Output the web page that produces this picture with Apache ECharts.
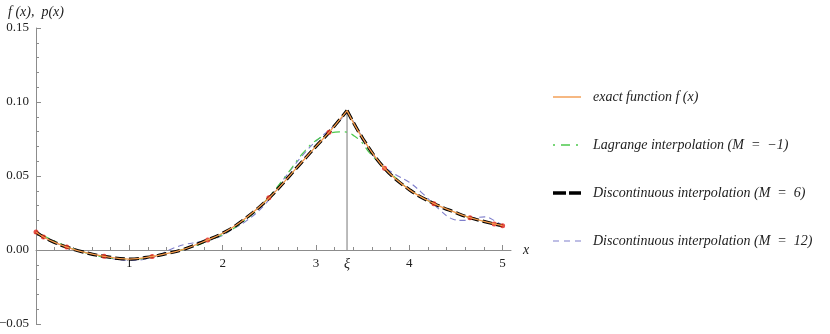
<!DOCTYPE html>
<html><head><meta charset="utf-8">
<script src="https://cdn.jsdelivr.net/npm/echarts@6/dist/echarts.min.js"></script>
<style>html,body{margin:0;padding:0;background:#fff}#c{width:830px;height:334px}</style>
</head><body><div id="c"></div>
<script>
// ---- axis ticks ----
const xMajorTicks = [1, 2, 3, 4, 5];
const xMinorTicks = [0.2, 0.4, 0.6, 0.8, 1.2, 1.4, 1.6, 1.8, 2.2, 2.4, 2.6, 2.8, 3.2, 3.4, 3.6, 3.8, 4.2, 4.4, 4.6, 4.8];
const xiValue = 3.333;
const xiLabel = 'ξ';
const yTickLabels = [-0.05, 0, 0.05, 0.1, 0.15];

// ---- exact function f(x) (left of ξ, right of ξ) ----
const xLeft  = [0, 0.08, 0.2, 0.33, 0.5, 0.73, 1.0, 1.245, 1.4, 1.57, 1.84, 2.0, 2.2, 2.5, 2.8, 3.0, 3.14, 3.333];
const fLeft  = [0.0122, 0.0088, 0.0051, 0.0020, -0.0013, -0.0043, -0.0061, -0.0044, -0.0024, 0.0002, 0.0068, 0.0113, 0.0192, 0.0353, 0.0560, 0.0700, 0.0795, 0.0942];
const xRight = [3.333, 3.5, 3.735, 4.0, 4.26, 4.5, 4.65, 4.91, 5.0];
const fRight = [0.0942, 0.0755, 0.0552, 0.0408, 0.0315, 0.0252, 0.0218, 0.0176, 0.0164];

// ---- discontinuous interpolation M = 6 ----
const p6Left  = [0.0122, 0.0088, 0.0051, 0.0020, -0.0013, -0.0043, -0.0061, -0.0044, -0.0024, 0.0002, 0.0068, 0.0113, 0.0192, 0.0353, 0.0560, 0.0700, 0.0795, 0.0942];
const p6Right = [0.0942, 0.0755, 0.0552, 0.0408, 0.0315, 0.0252, 0.0218, 0.0176, 0.0164];

// ---- discontinuous interpolation M = 12 ----
const x12Left  = [0, 0.2, 0.4, 0.7, 1.0, 1.25, 1.47, 1.6, 1.75, 1.95, 2.1, 2.25, 2.45, 2.65, 2.85, 3.0, 3.15, 3.27, 3.333];
const p12Left  = [0.0125, 0.0050, 0.0006, -0.0042, -0.0070, -0.0050, 0.0012, 0.0038, 0.0055, 0.0085, 0.0138, 0.0195, 0.0305, 0.0475, 0.0635, 0.0735, 0.0815, 0.0885, 0.0930];
const x12Right = [3.333, 3.4, 3.57, 3.7, 3.86, 4.0, 4.16, 4.32, 4.47, 4.58, 4.7, 4.81, 4.93, 5.0];
const p12Right = [0.0930, 0.0870, 0.0680, 0.0578, 0.0507, 0.0458, 0.0372, 0.0275, 0.0208, 0.0200, 0.0217, 0.0224, 0.0192, 0.0165];

// ---- Lagrange interpolation M = -1 ----
const xLag = [0, 0.5, 1.0, 1.5, 2.0, 2.3, 2.5, 2.7, 2.86, 3.0, 3.15, 3.25, 3.333, 3.41, 3.485, 3.57, 3.7, 3.85, 4.0, 4.3, 4.65, 5.0];
const pLag = [0.0122, -0.0013, -0.0062, -0.0010, 0.0105, 0.0232, 0.0362, 0.0520, 0.0655, 0.0740, 0.0788, 0.0798, 0.0797, 0.0770, 0.0732, 0.0660, 0.0575, 0.0490, 0.0410, 0.0302, 0.0218, 0.0164];

// ---- interpolation nodes ----
const xNodes = [0, 0.08, 0.33, 0.73, 1.245, 1.84, 2.495, 3.14, 3.735, 4.264, 4.65, 4.91, 5.0];
const yNodes = [0.0122, 0.0088, 0.0020, -0.0043, -0.0044, 0.0068, 0.0353, 0.0795, 0.0552, 0.0313, 0.0218, 0.0176, 0.0164];

const names = ['exact function f (x)', 'Lagrange interpolation (M  =  −1)', 'Discontinuous interpolation (M  =  6)', 'Discontinuous interpolation (M  =  12)'];

const pairs = (xs, ys) => xs.map((x, i) => [x, ys[i]]);
const serif = 'Liberation Serif';

const cOrange = '#f39a4c', cGreen = '#4cc94c', cBlack = '#000000', cBlue = '#7f7fcc', cRed = '#e0231a';
const lsExact = { color: cOrange, width: 1.3, type: 'solid' };
const lsLag = { color: cGreen, width: 1.2, type: [2, 5, 8, 5] };
const ls6 = { color: cBlack, width: 3.2, type: [10, 4] };
const ls12 = { color: cBlue, width: 1.1, type: [6, 4] };

// legend sample shapes (dash patterns as filled paths, 28 px wide)
const iconExact = 'path://M0,0H28V1.4H0Z';
const iconLag = 'path://M0,0H2V1.4H0Z M8,0H17V1.4H8Z M23,0H25V1.4H23Z M28,0L28,1.4Z';
const icon6 = 'path://M0,0H13V3.4H0Z M16,0H28V3.4H16Z';
const icon12 = 'path://M0,0H6V1.2H0Z M11,0H17V1.2H11Z M22,0H28V1.2H22Z';

function lineSeries(name, data, ls, z, smooth) {
  return { name, type: 'line', data, symbol: 'none', smooth: smooth, lineStyle: ls, itemStyle: { color: ls.color }, z, animation: false, silent: true };
}

const gridTop = 28, gridHeight = 296, yMin = -0.05, yMax = 0.15;
const zeroOffset = -gridHeight * (0 - yMin) / (yMax - yMin);

const chart = echarts.init(document.getElementById('c'), null, { renderer: 'canvas' });
chart.setOption({
  animation: false,
  grid: { left: 36, top: gridTop, width: 475, height: gridHeight, containLabel: false, outerBoundsMode: 'none' },
  xAxis: [{
    type: 'value', min: 0, max: 5.09, position: 'bottom', offset: zeroOffset,
    name: 'x', nameLocation: 'end', nameGap: 12,
    nameTextStyle: { fontFamily: serif, fontStyle: 'italic', fontSize: 14, color: '#222' },
    axisLine: { onZero: false, lineStyle: { color: '#8c8c8c', width: 1 } },
    axisTick: { inside: true, length: 5, customValues: xMajorTicks, lineStyle: { color: '#8c8c8c' } },
    axisLabel: {
      customValues: xMajorTicks.concat([xiValue]), margin: 7,
      fontFamily: serif, fontSize: 13, color: '#222',
      formatter: v => Math.abs(v - xiValue) < 1e-6 ? '{xi|' + xiLabel + '}' : String(v),
      rich: { xi: { fontFamily: serif, fontStyle: 'italic', fontSize: 14, color: '#222' } }
    },
    splitLine: { show: false }
  }, {
    type: 'value', min: 0, max: 5.09, position: 'bottom', offset: zeroOffset,
    axisLine: { show: false, onZero: false },
    axisTick: { inside: true, length: 3, customValues: xMinorTicks, lineStyle: { color: '#8c8c8c' } },
    axisLabel: { show: false },
    splitLine: { show: false }
  }],
  yAxis: {
    type: 'value', min: yMin, max: yMax, interval: 0.05,
    name: 'f (x),  p(x)', nameLocation: 'end', nameGap: 9,
    nameTextStyle: { fontFamily: serif, fontStyle: 'italic', fontSize: 14, color: '#222', align: 'center' },
    axisLine: { onZero: false, lineStyle: { color: '#8c8c8c', width: 1 } },
    axisTick: { inside: true, length: 5, lineStyle: { color: '#8c8c8c' } },
    minorTick: { show: true, splitNumber: 5, length: 3, lineStyle: { color: '#8c8c8c' } },
    axisLabel: {
      margin: 7, fontFamily: serif, fontSize: 13, color: '#222',
      customValues: yTickLabels,
      formatter: v => v.toFixed(2).replace('-', '−')
    },
    splitLine: { show: false }, minorSplitLine: { show: false }
  },
  legend: {
    orient: 'vertical', left: 553, top: 90, padding: 0,
    itemWidth: 28, itemHeight: 14, itemGap: 34,
    textStyle: { fontFamily: serif, fontStyle: 'italic', fontSize: 14, lineHeight: 14, color: '#222', padding: [0, 0, 0, 7] },
    data: [
      { name: names[0], icon: iconExact, itemStyle: { color: cOrange } },
      { name: names[1], icon: iconLag, itemStyle: { color: cGreen } },
      { name: names[2], icon: icon6, itemStyle: { color: cBlack } },
      { name: names[3], icon: icon12, itemStyle: { color: cBlue } }
    ]
  },
  series: [
    { name: 'xi', type: 'line', data: [[xiValue, 0], [xiValue, fLeft[fLeft.length - 1]]], symbol: 'none',
      lineStyle: { color: '#aaaaaa', width: 1.6 }, z: 1, silent: true },
    lineSeries(names[3], pairs(x12Left, p12Left), ls12, 2, 0.4),
    lineSeries(names[3], pairs(x12Right, p12Right), ls12, 2, 0.4),
    lineSeries(names[1], pairs(xLag, pLag), lsLag, 3, 0.4),
    lineSeries(names[2], pairs(xLeft, p6Left), ls6, 4, 0.4),
    lineSeries(names[2], pairs(xRight, p6Right), ls6, 4, 0.4),
    { name: 'nodes', type: 'scatter', data: pairs(xNodes, yNodes), symbol: 'circle', symbolSize: 5,
      itemStyle: { color: cRed }, z: 5, silent: true },
    lineSeries(names[0], pairs(xLeft, fLeft), lsExact, 6, 0.4),
    lineSeries(names[0], pairs(xRight, fRight), lsExact, 6, 0.4)
  ]
});
</script></body></html>
